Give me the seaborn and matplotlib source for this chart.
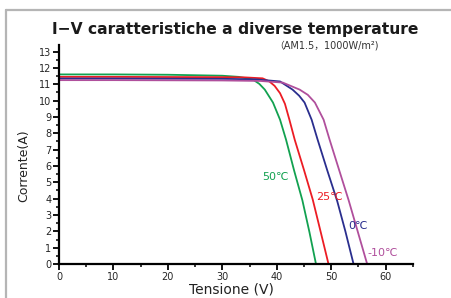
import pandas as pd
import seaborn as sns
import matplotlib.pyplot as plt
from matplotlib.ticker import MultipleLocator
from matplotlib.lines import Line2D

# curve data (V, A)
v_50 = [0, 10, 20, 30, 33, 35.6, 36.8, 37.8, 39.3, 40.6, 41.7, 43.2, 44.7, 46.0, 47.2]
i_50 = [11.6, 11.6, 11.58, 11.52, 11.45, 11.29, 11.02, 10.67, 9.88, 8.83, 7.61, 5.7, 3.9, 1.95, 0]
v_25 = [0, 10, 20, 30, 34, 37.4, 38.6, 39.6, 40.6, 41.5, 42.3, 43.3, 45.0, 46.6, 48.0, 49.5]
i_25 = [11.45, 11.45, 11.44, 11.43, 11.42, 11.36, 11.18, 10.9, 10.45, 9.8, 8.85, 7.6, 5.75, 3.95, 2.05, 0]
v_0 = [0, 10, 20, 30, 36, 40.6, 42.9, 44.1, 45.1, 46.4, 47.5, 49.3, 51.1, 52.6, 54.1]
i_0 = [11.35, 11.35, 11.34, 11.33, 11.3, 11.17, 10.67, 10.3, 9.88, 8.83, 7.61, 5.7, 3.85, 2.0, 0]
v_m10 = [0, 10, 20, 30, 37, 41.1, 44.2, 45.7, 47.0, 48.6, 49.7, 51.5, 53.2, 54.9, 56.6]
i_m10 = [11.25, 11.25, 11.24, 11.23, 11.2, 11.1, 10.67, 10.35, 9.88, 8.83, 7.61, 5.7, 3.9, 1.95, 0]

labels = ['50℃', '25℃', '0℃', '-10℃']
colors = ['#12a150', '#ec1c24', '#2a2e8e', '#b04f9c']
label_pos = [(42.2, 5.35), (47.2, 4.1), (53.2, 2.3), (56.7, 0.65)]

rows = []
for lab, vv, ii in zip(labels, [v_50, v_25, v_0, v_m10], [i_50, i_25, i_0, i_m10]):
    for a, b in zip(vv, ii):
        rows.append({'temp': lab, 'V': a, 'I': b})
df = pd.DataFrame(rows)

sns.set_style('ticks')
plt.rcParams['font.family'] = ['DejaVu Sans', 'Noto Sans CJK SC']

fig = plt.figure(figsize=(4.52, 2.98), dpi=100)
ax = fig.add_axes([0.1305, 0.114, 0.783, 0.735])

sns.lineplot(data=df, x='V', y='I', hue='temp', palette=colors, sort=False,
             linewidth=1.3, legend=False, ax=ax)

for lab, c, (x, y) in zip(labels, colors, label_pos):
    ha = 'left' if lab in ('25℃', '-10℃', '0℃') else 'right'
    ax.text(x, y, lab, color=c, fontsize=8, ha=ha, va='center')

ax.set_xlim(0, 65)
ax.set_ylim(0, 13.4)
ax.xaxis.set_major_locator(MultipleLocator(10))
ax.xaxis.set_minor_locator(MultipleLocator(5))
ax.yaxis.set_major_locator(MultipleLocator(1))
ax.yaxis.set_minor_locator(MultipleLocator(0.5))
ax.tick_params(which='major', length=4, width=1.3, labelsize=7, pad=1.5, color='black')
ax.tick_params(which='minor', length=2.5, width=1.1, color='black')
for s in ['top', 'right']:
    ax.spines[s].set_visible(False)
for s in ['left', 'bottom']:
    ax.spines[s].set_linewidth(1.6)
    ax.spines[s].set_color('black')
ax.set_facecolor('white')

ax.set_xlabel('Tensione (V)', fontsize=10, color='#222222')
ax.set_ylabel('Corrente(A)', fontsize=9, color='#222222')
ax.xaxis.set_label_coords(0.487, -0.085)
ax.yaxis.set_label_coords(-0.082, 0.45)

fig.text(0.52, 0.9, 'I−V caratteristiche a diverse temperature', ha='center', va='center',
         fontsize=11.2, fontweight='bold', color='#1a1a1a')
fig.text(0.837, 0.847, '（AM1.5，1000W/m²)', ha='right', va='center', fontsize=7,
         color='#333333', family=['DejaVu Sans', 'Noto Sans CJK SC'])

# gray frame around the chart
fig.add_artist(Line2D([0.013, 1.0], [0.966, 0.966], color='#b5b5b5', linewidth=1.6))
fig.add_artist(Line2D([0.013, 0.013], [0.0, 0.966], color='#b5b5b5', linewidth=1.6))

fig.savefig('out.png', dpi=100, facecolor='white')
